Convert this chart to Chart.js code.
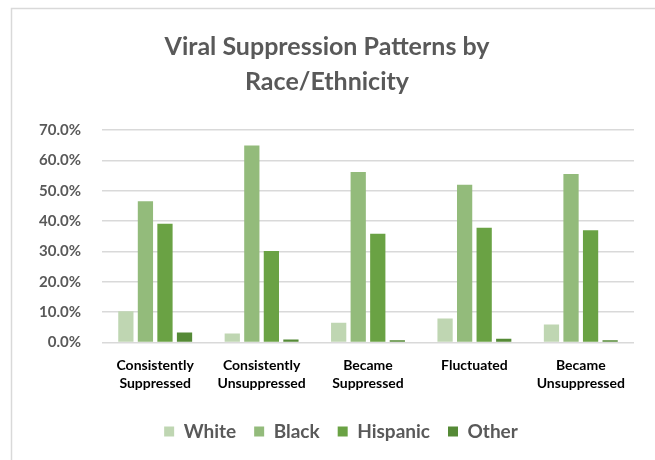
<!DOCTYPE html>
<html>
<head>
<meta charset="utf-8">
<script src="https://cdn.jsdelivr.net/npm/chart.js@4"></script>
<style>
  html, body { margin: 0; padding: 0; background: #ffffff; }
  #wrap { position: relative; width: 655px; height: 460px; }
  canvas { display: block; }
</style>
</head>
<body>
<div id="wrap"><canvas id="chart" width="655" height="460"></canvas></div>
<script>
// Viral suppression pattern categories (multi-line labels)
const categories = [
  ['Consistently', 'Suppressed'],
  ['Consistently', 'Unsuppressed'],
  ['Became', 'Suppressed'],
  ['Fluctuated'],
  ['Became', 'Unsuppressed']
];

// Share of each pattern by race/ethnicity (percent)
const white    = [10.3, 3.0, 6.5, 7.9, 6.0];
const black    = [46.5, 64.9, 56.2, 52.0, 55.5];
const hispanic = [39.1, 30.2, 35.8, 37.8, 37.0];
const other    = [3.3, 1.0, 0.8, 1.3, 0.8];

const seriesNames = ['White', 'Black', 'Hispanic', 'Other'];
const seriesColors = ['#bfd6b2', '#93bb7b', '#6aa244', '#558a36'];

const FONT = 'Lato, "Open Sans", "DejaVu Sans", sans-serif';

// Light frame around the chart area
const framePlugin = {
  id: 'frame',
  beforeDraw(chart) {
    const ctx = chart.ctx;
    ctx.save();
    ctx.fillStyle = '#ffffff';
    ctx.fillRect(0, 0, chart.width, chart.height);
    ctx.strokeStyle = '#d9d9d9';
    ctx.lineWidth = 1.5;
    ctx.strokeRect(11.5, 8.5, chart.width + 20, chart.height + 20);
    ctx.restore();
  }
};

// Center the legend under the plot area rather than the whole canvas
const legendShift = {
  id: 'legendShift',
  afterLayout(chart) {
    if (chart.legend) {
      chart.legend.left += 14;
      chart.legend.right += 14;
    }
  }
};

const datasets = [white, black, hispanic, other].map((values, i) => ({
  label: seriesNames[i],
  data: values,
  backgroundColor: seriesColors[i],
  borderWidth: 0,
  categoryPercentage: 0.735,
  barPercentage: 0.78
}));

new Chart(document.getElementById('chart'), {
  type: 'bar',
  data: { labels: categories, datasets },
  plugins: [framePlugin, legendShift],
  options: {
    responsive: false,
    animation: false,
    devicePixelRatio: 1,
    layout: { padding: { left: 20, right: 21, top: 29, bottom: 9 } },
    plugins: {
      title: {
        display: true,
        text: ['Viral Suppression Patterns by', 'Race/Ethnicity'],
        color: '#595959',
        font: { family: FONT, size: 25, weight: 'bold', lineHeight: 1.4 },
        padding: { top: 0, bottom: 31 }
      },
      legend: {
        position: 'bottom',
        labels: {
          boxWidth: 10,
          boxHeight: 10,
          padding: 18,
          color: '#595959',
          font: { family: FONT, size: 19, weight: 'bold' }
        }
      },
      tooltip: { enabled: false }
    },
    scales: {
      x: {
        grid: { display: false, drawTicks: false },
        border: { display: false },
        afterFit(scale) { scale.height -= 3; },
        ticks: {
          color: '#000000',
          padding: 14,
          maxRotation: 0,
          autoSkip: false,
          font: { family: FONT, size: 14, weight: 'bold', lineHeight: 1.3 }
        }
      },
      y: {
        min: 0,
        max: 70,
        grid: { color: '#d9d9d9', lineWidth: 1.5, drawTicks: false },
        border: { display: false },
        afterFit(scale) { scale.width = 82; },
        ticks: {
          stepSize: 10,
          padding: 21,
          color: '#595959',
          font: { family: FONT, size: 15, weight: 'bold' },
          callback: v => v.toFixed(1) + '%'
        }
      }
    }
  }
});
</script>
</body>
</html>
